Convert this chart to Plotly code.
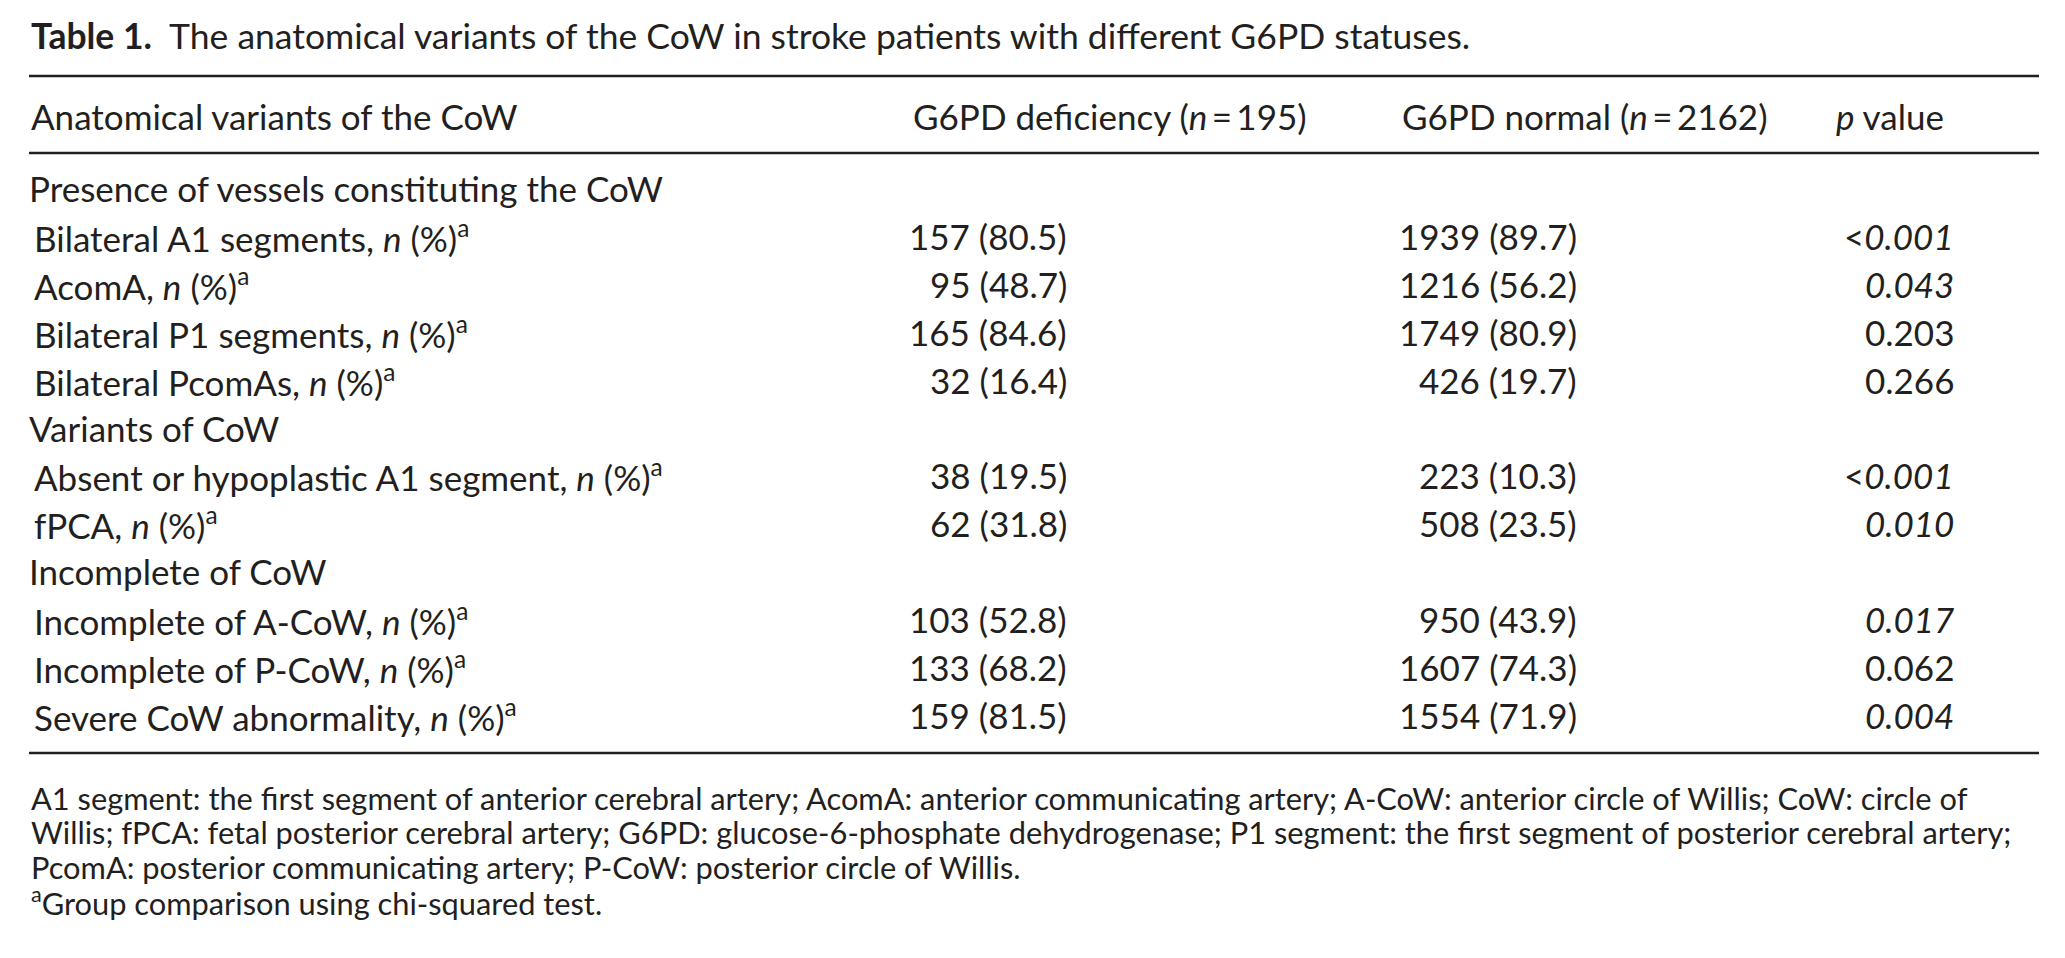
import plotly.graph_objects as go

# table content
title_bold = "Table 1."
title_text = "The anatomical variants of the CoW in stroke patients with different G6PD statuses."
col_headers = ["Anatomical variants of the CoW",
               "G6PD deficiency (<i>n</i>\u2009=\u2009195)",
               "G6PD normal (<i>n</i>\u2009=\u20092162)",
               "<i>p</i> value"]
groups = ["Presence of vessels constituting the CoW", "Variants of CoW", "Incomplete of CoW"]
row_labels = ["Bilateral A1 segments", "AcomA", "Bilateral P1 segments", "Bilateral PcomAs",
              "Absent or hypoplastic A1 segment", "fPCA",
              "Incomplete of A-CoW", "Incomplete of P-CoW", "Severe CoW abnormality"]
row_group = [0, 0, 0, 0, 1, 1, 2, 2, 2]
deficiency_n = [157, 95, 165, 32, 38, 62, 103, 133, 159]
deficiency_pct = [80.5, 48.7, 84.6, 16.4, 19.5, 31.8, 52.8, 68.2, 81.5]
normal_n = [1939, 1216, 1749, 426, 223, 508, 950, 1607, 1554]
normal_pct = [89.7, 56.2, 80.9, 19.7, 10.3, 23.5, 43.9, 74.3, 71.9]
p_values = ["<0.001", "0.043", "0.203", "0.266", "<0.001", "0.010", "0.017", "0.062", "0.004"]
footnotes = [
    "A1 segment: the first segment of anterior cerebral artery; AcomA: anterior communicating artery; A-CoW: anterior circle of Willis; CoW: circle of",
    "Willis; fPCA: fetal posterior cerebral artery; G6PD: glucose-6-phosphate dehydrogenase; P1 segment: the first segment of posterior cerebral artery;",
    "PcomA: posterior communicating artery; P-CoW: posterior circle of Willis.",
    "<sup>a</sup>Group comparison using chi-squared test.",
]

W, H = 2065, 958
PAD = 8  # page body margin, axis units below are page pixels
FONT = "Lato"
INK = "#231f20"
BODY = 35
TITLE = 35.5
NOTE = 30.8

x_left, x_right = 29, 2039
x_group, x_sub = 27, 32
x_head = [29, 911, 1400, 1834]
x_val = [1069, 1579, 1956]
y_title = 35
y_rules = [76, 153, 753]
y_head = 116
y_first, row_step = 188, 47.9
y_note, note_step = 798, 34.5


def p_fmt(p):
    num = float(p.lstrip("<"))
    if num < 0.05:
        if p.startswith("<"):
            return "<" + "<i>" + p[1:] + "</i>"
        return "<i>" + p + "</i>"
    return p


fig = go.Figure()
fig.add_trace(go.Scatter(x=[PAD, W - PAD], y=[PAD, H - PAD], mode="markers",
                         marker=dict(opacity=0), hoverinfo="skip", showlegend=False))

ann = []


def txt(x, y, s, anchor="left", size=BODY):
    ann.append(dict(x=x, y=y, xref="x", yref="y", text=s, showarrow=False,
                    xanchor=anchor, yanchor="middle",
                    font=dict(family=FONT, size=size, color=INK)))


txt(x_left, y_title, "<b>" + title_bold + "</b>  " + title_text, size=TITLE)
for i, h in enumerate(col_headers):
    txt(x_head[i], y_head, h)

line = 0
for g, gname in enumerate(groups):
    y = y_first + line * row_step
    txt(x_group, y, gname)
    line += 1
    for k in range(len(row_labels)):
        if row_group[k] != g:
            continue
        y = y_first + line * row_step
        txt(x_sub, y, row_labels[k] + ", <i>n</i> (%)<sup>a</sup>")
        txt(x_val[0], y, f"{deficiency_n[k]} ({deficiency_pct[k]:.1f})", "right")
        txt(x_val[1], y, f"{normal_n[k]} ({normal_pct[k]:.1f})", "right")
        txt(x_val[2], y, p_fmt(p_values[k]), "right")
        line += 1

for j, note in enumerate(footnotes):
    txt(x_left, y_note + j * note_step, note, size=NOTE)

shapes = [dict(type="line", xref="x", yref="y", x0=x_left, x1=x_right, y0=yr, y1=yr,
               line=dict(color=INK, width=2.5)) for yr in y_rules]

fig.update_layout(
    width=W - 2 * PAD, height=H - 2 * PAD,
    margin=dict(l=0, r=0, t=0, b=0),
    paper_bgcolor="white", plot_bgcolor="white",
    xaxis=dict(range=[PAD, W - PAD], visible=False, fixedrange=True),
    yaxis=dict(range=[H - PAD, PAD], visible=False, fixedrange=True),
    annotations=ann, shapes=shapes, showlegend=False,
)

fig.write_html("out.html", config={"displayModeBar": False})
